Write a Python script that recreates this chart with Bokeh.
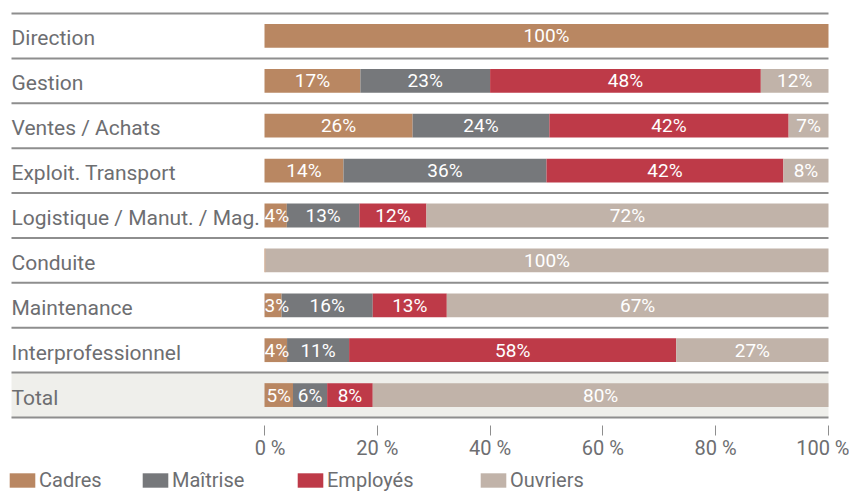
from bokeh.plotting import figure
from bokeh.models import ColumnDataSource, Range1d, FixedTicker, Legend, LegendItem, BoxAnnotation
from bokeh.core.properties import value
from bokeh.embed import file_html
from bokeh.resources import INLINE

# ---- data ----
categories = ["Direction", "Gestion", "Ventes / Achats", "Exploit. Transport",
              "Logistique / Manut. / Mag.", "Conduite", "Maintenance",
              "Interprofessionnel", "Total"]
cadres = [100, 17, 26, 14, 4, 0.2, 3, 4, 5]
maitrise = [0, 23, 24, 36, 13, 0, 16, 11, 6]
employes = [0, 48, 42, 42, 12, 0, 13, 58, 8]
ouvriers = [0, 12, 7, 8, 72, 100, 67, 27, 80]
series_names = ["Cadres", "Maîtrise", "Employés", "Ouvriers"]
series_colors = ["#B98762", "#76787B", "#BE3A48", "#C1B3A9"]
tick_values = [0, 20, 40, 60, 80, 100]
tick_labels = ["0 %", "20 %", "40 %", "60 %", "80 %", "100 %"]

TEXT = "#6D6E71"
LINE = "#8E8E8E"
FONT = "Roboto"

n = len(categories)
series = [cadres, maitrise, employes, ouvriers]
keys = ["s0", "s1", "s2", "s3"]
ys = [n - 1 - i + 0.5 for i in range(n)]
totals = [sum(s[i] for s in series) for i in range(n)]

data = {"y": ys, "cat": categories}
for k, s in zip(keys, series):
    data[k] = [s[i] / totals[i] * 100 for i in range(n)]
src = ColumnDataSource(data)

PX_PER_PCT = 5.64
PITCH = 44.9
MIN_LABEL_HALF = 2.2  # keep a label inside the bar's left end

# segment labels
lx, ly, lt = [], [], []
for i in range(n):
    cum = 0.0
    for k, s in zip(keys, series):
        w = data[k][i]
        if s[i] >= 1:
            lx.append(max(cum + w / 2, MIN_LABEL_HALF))
            ly.append(ys[i])
            lt.append(f"{s[i]:g}%")
        cum += w
lab_src = ColumnDataSource(dict(x=lx, y=ly, t=lt))
tick_src = ColumnDataSource(dict(x=tick_values, y=[0] * len(tick_values), t=tick_labels))

x_start = -253 / PX_PER_PCT          # left end of the row labels / separators
range_start = -264 / PX_PER_PCT
range_end = 100 + 21 / PX_PER_PCT
p = figure(width=849, height=492, x_range=Range1d(range_start, range_end),
           y_range=Range1d(-75 / PITCH, n + 2 / PITCH),
           output_backend="svg", toolbar_location=None, y_axis_location=None,
           min_border_left=0, min_border_right=0, min_border_top=11,
           min_border_bottom=0)
p.outline_line_color = None
p.xgrid.visible = False
p.ygrid.visible = False
p.background_fill_color = "white"

# Total row background
p.add_layout(BoxAnnotation(bottom=0, top=1, left=x_start, right=100,
                           fill_color="#EFEFEB", fill_alpha=1, line_color=None,
                           level="underlay"))

renderers = p.hbar_stack(keys, y="y", height=0.53, source=src,
                         fill_color=series_colors, line_color=None)

# row separators
sep_y = list(range(n + 1))
p.segment(x0=[x_start] * len(sep_y), x1=[100] * len(sep_y), y0=sep_y, y1=sep_y,
          line_color=LINE, line_width=2)

p.text(x=x_start, y="y", text="cat", source=src, text_align="left",
       text_baseline="alphabetic", y_offset=2.5, text_color=TEXT,
       text_font=value(FONT), text_font_size="21px")

p.text(x="x", y="y", text="t", source=lab_src, text_align="center",
       text_baseline="alphabetic", y_offset=0, text_color="white",
       text_font=value(FONT), text_font_size="19px")

# axis: ticks from the library axis, labels placed under the ticks
ax = p.xaxis[0]
ax.fixed_location = 0
ax.ticker = FixedTicker(ticks=tick_values)
ax.major_label_overrides = {v: "" for v in tick_values}
ax.axis_line_color = None
ax.minor_tick_line_color = None
ax.major_tick_line_color = LINE
ax.major_tick_in = -8
ax.major_tick_out = 18

p.text(x="x", y="y", text="t", source=tick_src, text_align="right",
       text_baseline="alphabetic", x_offset=21, y_offset=30, text_color=TEXT,
       text_font=value(FONT), text_font_size="20px")

leg_x = [6, 139, 294, 477]
for r, name, lxp in zip(renderers, series_names, leg_x):
    leg = Legend(items=[LegendItem(label=name, renderers=[r])],
                 location=(lxp, 0), orientation="horizontal",
                 padding=0, margin=0, border_line_color=None,
                 background_fill_alpha=0, glyph_width=32, glyph_height=18,
                 label_standoff=1, label_text_font=FONT,
                 label_text_font_size="20px", label_text_color=TEXT)
    p.add_layout(leg, "center")

open("out.html", "w").write(file_html(p, INLINE))
